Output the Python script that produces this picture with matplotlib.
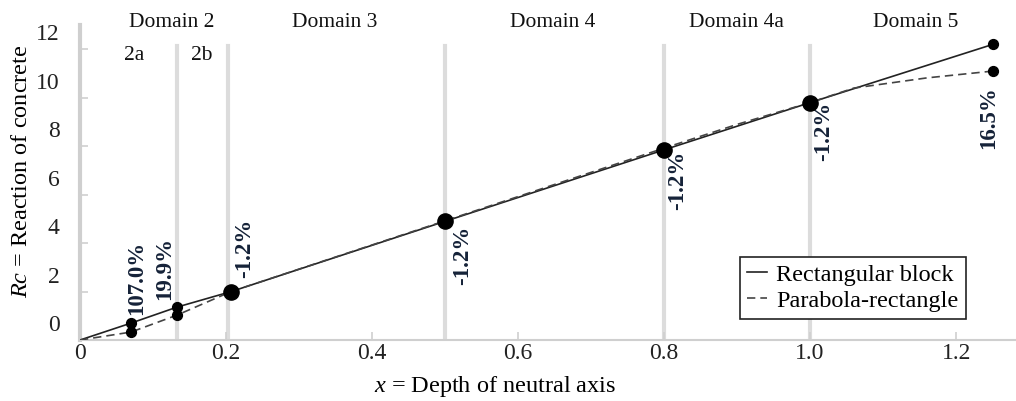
import matplotlib
matplotlib.use("Agg")
import matplotlib.pyplot as plt
import matplotlib.transforms as mtransforms

plt.rcParams['font.family'] = ['Liberation Serif', 'DejaVu Serif']
plt.rcParams['mathtext.fontset'] = 'custom'
plt.rcParams['mathtext.it'] = 'Liberation Serif:italic'
plt.rcParams['mathtext.rm'] = 'Liberation Serif'

# rectangular block (straight line)
rect_x = [0, 0.07, 0.133, 0.207, 0.5, 0.8, 1.0, 1.25]
rect_y = [0, 0.70, 1.36, 2.0, 4.9, 7.85, 9.8, 12.2]
# parabola-rectangle
para_x = [0, 0.07, 0.133, 0.207, 0.5, 0.8, 0.9, 1.0, 1.06, 1.16, 1.25]
para_y = [0, 0.33, 1.03, 2.0, 4.92, 7.92, 8.9, 9.8, 10.4, 10.82, 11.1]

big_x = [0.207, 0.5, 0.8, 1.0]
big_y = [2.0, 4.9, 7.85, 9.8]
small_x = [0.07, 0.07, 0.133, 0.133, 1.25, 1.25]
small_y = [0.70, 0.33, 1.36, 1.03, 12.2, 11.1]

bounds = [0.133, 0.203, 0.5, 0.8, 1.0]

domains = ['Domain 2', 'Domain 3', 'Domain 4', 'Domain 4a', 'Domain 5']
domain_x = [0.125, 0.349, 0.648, 0.899, 1.145]
sub_labels = ['2a', '2b']
sub_x = [0.074, 0.167]

pct_labels = ['107.0%', '19.9%', '-1.2%', '-1.2%', '-1.2%', '-1.2%', '16.5%']
pct_x = [0.077, 0.116, 0.226, 0.524, 0.818, 1.018, 1.245]
pct_y = [2.55, 2.95, 3.8, 3.5, 6.6, 8.6, 9.2]

fig = plt.figure(figsize=(10.16, 4.01), dpi=100)
ax = fig.add_axes([0.0787, 0.152, 0.9213, 0.7855])

grey = '#cfcfcf'
for b in bounds:
    ax.plot([b, b], [0, 12.15], color='#dcdcdc', lw=3, zorder=1)

ax.plot(rect_x, rect_y, color='#222222', lw=1.2, zorder=3, label='Rectangular block')
ax.plot(para_x, para_y, color='#444444', lw=1.2, ls=(0, (5, 3)), zorder=3,
        label='Parabola-rectangle')
ax.scatter(big_x, big_y, s=120, color='black', zorder=4)
ax.scatter(small_x, small_y, s=50, color='black', zorder=4)

for t, x in zip(domains, domain_x):
    ax.text(x, 13.12, t, ha='center', va='center', fontsize=15.5, color='#111111')
for t, x in zip(sub_labels, sub_x):
    ax.text(x, 11.75, t, ha='center', va='center', fontsize=15.5, color='#111111')
for t, x, y in zip(pct_labels, pct_x, pct_y):
    ax.text(x, y, t, rotation=90, ha='center', va='center', fontsize=16.5,
            fontweight='bold', color='#152238')

ax.set_xlim(0, 1.282)
ax.set_ylim(0, 13)
ax.set_xticks([0, 0.2, 0.4, 0.6, 0.8, 1.0, 1.2])
ax.set_xticklabels(['0', '0.2', '0.4', '0.6', '0.8', '1.0', '1.2'])
ax.set_yticks([0, 2, 4, 6, 8, 10, 12])
ax.tick_params(axis='both', direction='in', color=grey, labelsize=17,
               labelcolor='#222222', length=6, width=1.2)
ax.tick_params(axis='y', pad=14.5)
ax.tick_params(axis='x', pad=2)
# y tick labels sit a bit above their ticks
off = mtransforms.ScaledTranslation(0, 17 / 100, fig.dpi_scale_trans)
for lab in ax.get_yticklabels():
    lab.set_transform(lab.get_transform() + off)

for s in ['top', 'right']:
    ax.spines[s].set_visible(False)
ax.spines['left'].set_color(grey)
ax.spines['left'].set_linewidth(3)
ax.spines['bottom'].set_color(grey)
ax.spines['bottom'].set_linewidth(1.5)

ax.set_xlabel('$x$ = Depth of neutral axis', fontsize=17.5, va='center')
ax.xaxis.set_label_coords(0.443, -0.149)
ax.set_ylabel('$Rc$ = Reaction of concrete', fontsize=17.5, va='center')
ax.yaxis.set_label_coords(-0.062, 0.535)

leg = ax.legend(loc='lower right', bbox_to_anchor=(0.9466, 0.067), borderaxespad=0,
                fontsize=17.5, handlelength=0.8, handletextpad=0.4, borderpad=0.3,
                labelspacing=0.15, fancybox=False, framealpha=1)
leg.get_frame().set_edgecolor('#222222')
leg.get_frame().set_linewidth(1.2)

fig.savefig('out.png', dpi=100)
